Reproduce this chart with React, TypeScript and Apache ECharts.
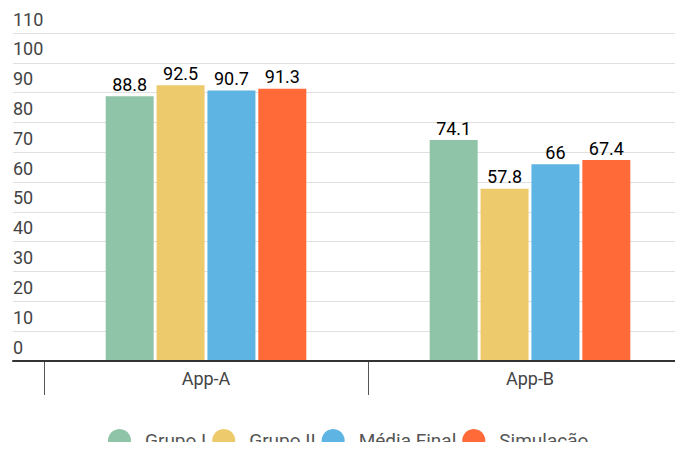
import React, { useEffect, useRef } from "react";
import * as echarts from "echarts";

const categories = ["App-A", "App-B"];
const seriesNames = ["Grupo I", "Grupo II", "Média Final", "Simulação"];
const grupoI = [88.8, 74.1];
const grupoII = [92.5, 57.8];
const mediaFinal = [90.7, 66];
const simulacao = [91.3, 67.4];
const colors = ["#8FC4A8", "#EDCA6B", "#5EB5E4", "#FF6A38"];
const yTicksMax = 110;
const yTickStep = 10;

export default function App() {
  const ref = useRef<HTMLDivElement>(null);
  useEffect(() => {
    if (!ref.current) return;
    const chart = echarts.init(ref.current, undefined, { renderer: "svg" });
    const values = [grupoI, grupoII, mediaFinal, simulacao];
    const font = "Roboto";
    chart.setOption({
      animation: false,
      textStyle: { fontFamily: font },
      grid: [
        { left: 13, right: 0, top: 33, bottom: 89, outerBoundsMode: "none", containLabel: false },
        { left: 44, width: 648, top: 33, bottom: 89, outerBoundsMode: "none", containLabel: false },
      ],
      xAxis: [
        {
          type: "category",
          gridIndex: 0,
          data: categories,
          axisLine: { show: true, lineStyle: { color: "#333", width: 2 } },
          axisTick: { show: false },
          axisLabel: { show: false },
          z: 5,
        },
        {
          type: "category",
          gridIndex: 1,
          data: categories,
          axisLine: { show: false },
          axisTick: { show: true, length: 34, lineStyle: { color: "#555", width: 1 } },
          axisLabel: { color: "#444", fontSize: 18, fontFamily: font, margin: 8 },
        },
      ],
      yAxis: [
        {
          type: "value",
          gridIndex: 0,
          min: 0,
          max: yTicksMax,
          interval: yTickStep,
          axisLine: { show: false },
          axisTick: { show: false },
          splitLine: { show: true, lineStyle: { color: "#e0e0e0", width: 1 } },
          axisLabel: {
            inside: true,
            color: "#444",
            fontSize: 18,
            fontFamily: font,
            verticalAlign: "bottom",
            align: "left",
            margin: 0,
            padding: [0, 0, 5, 0],
          },
        },
        {
          type: "value",
          gridIndex: 1,
          min: 0,
          max: yTicksMax,
          interval: yTickStep,
          show: false,
        },
      ],
      legend: {
        top: 424,
        left: 103,
        icon: "circle",
        itemWidth: 41,
        itemHeight: 23,
        itemGap: 6,
        textStyle: { color: "#555", fontSize: 19, fontFamily: font },
        data: seriesNames,
      },
      series: seriesNames.map((name, i) => ({
        name,
        type: "bar",
        xAxisIndex: 1,
        yAxisIndex: 1,
        data: values[i],
        barWidth: 48,
        barGap: "6%",
        itemStyle: { color: colors[i] },
        label: {
          show: true,
          position: "top",
          distance: 3,
          color: "#000",
          fontSize: 18,
          fontWeight: "normal",
          fontFamily: font,
        },
      })),
    });
    return () => chart.dispose();
  }, []);
  return <div ref={ref} style={{ width: 683, height: 450, margin: -8 }} />;
}
